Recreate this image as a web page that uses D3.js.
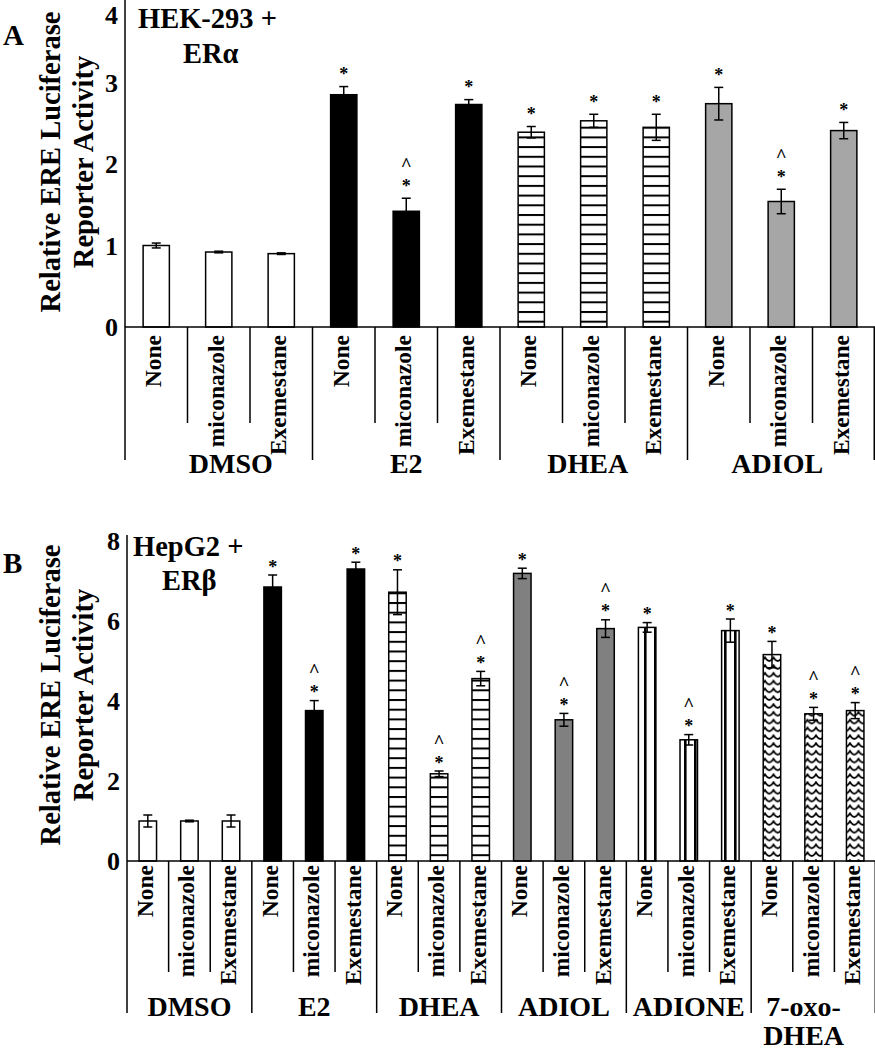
<!DOCTYPE html>
<html><head><meta charset="utf-8">
<script src="https://cdn.jsdelivr.net/npm/d3@7"></script>
<style>
html,body{margin:0;padding:0;background:#fff;}
svg text{font-family:"Liberation Serif","Times New Roman",serif;font-weight:bold;fill:#000;}
</style></head><body>
<svg id="chart" width="875" height="1050"></svg>
<script>
// ---------- data ----------
const treatments = ["None", "miconazole", "Exemestane"];

const groupsA = ["DMSO", "E2", "DHEA", "ADIOL"];
const valuesA = [1.00, 0.92, 0.90, 2.85, 1.42, 2.73, 2.39, 2.53, 2.45, 2.74, 1.54, 2.41];
const errorsA = [0.03, 0.01, 0.01, 0.10, 0.16, 0.06, 0.07, 0.08, 0.16, 0.20, 0.15, 0.10];
const starsA  = [0, 0, 0, 1, 1, 1, 1, 1, 1, 1, 1, 1];
const caretsA = [0, 0, 0, 0, 1, 0, 0, 0, 0, 0, 1, 0];
const ticksA  = [0, 1, 2, 3, 4];

const groupsB = ["DMSO", "E2", "DHEA", "ADIOL", "ADIONE", "7-oxo-DHEA"];
const valuesB = [1.00, 1.00, 1.00, 6.85, 3.76, 7.30, 6.72, 2.18, 4.56, 7.19, 3.53, 5.81, 5.84, 3.03, 5.76, 5.16, 3.68, 3.76];
const errorsB = [0.15, 0.02, 0.15, 0.30, 0.25, 0.17, 0.56, 0.07, 0.18, 0.13, 0.16, 0.22, 0.12, 0.13, 0.29, 0.33, 0.16, 0.20];
const starsB  = [0, 0, 0, 1, 1, 1, 1, 1, 1, 1, 1, 1, 1, 1, 1, 1, 1, 1];
const caretsB = [0, 0, 0, 0, 1, 0, 0, 1, 1, 0, 1, 1, 0, 1, 0, 0, 1, 1];
const ticksB  = [0, 2, 4, 6, 8];

const yTitle = ["Relative ERE Luciferase", "Reporter Activity"];
const titleA = ["HEK-293 +", "ER\u03B1"];
const titleB = ["HepG2 +", "ER\u03B2"];

// ---------- styles ----------
const fillA = {"DMSO": "#ffffff", "E2": "#000000", "DHEA": "url(#hstripe)", "ADIOL": "#a6a6a6"};
const fillB = {"DMSO": "#ffffff", "E2": "#000000", "DHEA": "url(#hstripe)", "ADIOL": "#808080",
               "ADIONE": "url(#vstripe)", "7-oxo-DHEA": "url(#zigzag)"};

const svg = d3.select("#chart");
const defs = svg.append("defs");

const hs = defs.append("pattern").attr("id", "hstripe").attr("patternUnits", "userSpaceOnUse")
  .attr("width", 10).attr("height", 9.7).attr("y", 0.6);
hs.append("rect").attr("width", 10).attr("height", 9.7).attr("fill", "#fff");
hs.append("rect").attr("width", 10).attr("height", 2).attr("fill", "#000");

const vs = defs.append("pattern").attr("id", "vstripe").attr("patternUnits", "userSpaceOnUse")
  .attr("width", 10).attr("height", 10);
vs.append("rect").attr("width", 10).attr("height", 10).attr("fill", "#fff");
vs.append("rect").attr("x", 4).attr("width", 2.6).attr("height", 10).attr("fill", "#000");

const zz = defs.append("pattern").attr("id", "zigzag").attr("patternUnits", "userSpaceOnUse")
  .attr("width", 8.5).attr("height", 7.8);
zz.append("rect").attr("width", 8.5).attr("height", 7.8).attr("fill", "#fff");
zz.append("path").attr("d", "M-0.5,1.4 Q2,5.8 4.25,5.8 Q6.5,5.8 9,1.4").attr("fill", "none")
  .attr("stroke", "#000").attr("stroke-width", 1.9);

function drawPanel(cfg) {
  const data = cfg.groups.flatMap((g, gi) => treatments.map((t, ti) => {
    const i = gi * 3 + ti;
    return {key: g + "|" + t, group: g, treat: t, value: cfg.values[i], err: cfg.errors[i],
            star: cfg.stars[i], caret: cfg.carets[i], idx: i};
  }));
  const x = d3.scaleBand().domain(data.map(d => d.key)).range([cfg.x0, cfg.x1])
    .paddingInner(0.58).paddingOuter(0.29);
  const y = d3.scaleLinear().domain([0, d3.max(cfg.ticks)]).range([cfg.yBase, cfg.yTop]);
  const step = x.step(), bw = x.bandwidth(), gap = (step - bw) / 2;
  const g = svg.append("g");

  // bars
  g.selectAll("rect.bar").data(data).join("rect").attr("class", "bar")
    .attr("x", d => x(d.key)).attr("y", d => y(d.value))
    .attr("width", bw).attr("height", d => cfg.yBase - y(d.value))
    .attr("fill", d => cfg.fill[d.group]).attr("stroke", "#000").attr("stroke-width", 1.5);

  // error bars
  const eb = g.selectAll("g.err").data(data).join("g").attr("class", "err")
    .attr("stroke", "#000").attr("stroke-width", 1.5);
  eb.append("line").attr("x1", d => x(d.key) + bw / 2).attr("x2", d => x(d.key) + bw / 2)
    .attr("y1", d => y(d.value - d.err)).attr("y2", d => y(d.value + d.err));
  eb.append("line").attr("x1", d => x(d.key) + bw / 2 - 4.5).attr("x2", d => x(d.key) + bw / 2 + 4.5)
    .attr("y1", d => y(d.value + d.err)).attr("y2", d => y(d.value + d.err));
  eb.append("line").attr("x1", d => x(d.key) + bw / 2 - 4.5).attr("x2", d => x(d.key) + bw / 2 + 4.5)
    .attr("y1", d => y(d.value - d.err)).attr("y2", d => y(d.value - d.err));

  // significance marks
  const markSize = 18;
  g.selectAll("text.star").data(data.filter(d => d.star)).join("text").attr("class", "star")
    .attr("x", d => x(d.key) + bw / 2).attr("y", d => y(d.value + d.err) - cfg.starGap + 8.5)
    .attr("text-anchor", "middle").attr("font-size", markSize).text("*");
  g.selectAll("text.caret").data(data.filter(d => d.caret)).join("text").attr("class", "caret")
    .attr("x", d => x(d.key) + bw / 2).attr("y", d => y(d.value + d.err) - cfg.starGap + 8.5 - cfg.caretGap)
    .attr("text-anchor", "middle").attr("font-size", markSize + 1).text("^");

  // y axis
  const ax = g.append("g").attr("transform", `translate(${cfg.x0},0)`)
    .call(d3.axisLeft(y).tickValues(cfg.ticks).tickSize(0).tickPadding(7).tickFormat(d3.format("d")));
  ax.select(".domain").remove();
  ax.selectAll("text").attr("font-size", 26).attr("fill", "#000")
    .style("font-family", '"Liberation Serif","Times New Roman",serif').style("font-weight", "bold")
    .attr("dy", d => y(d) < 12 ? "22px" : "0.34em");

  g.append("line").attr("x1", cfg.x0).attr("x2", cfg.x0).attr("y1", cfg.axisTop).attr("y2", cfg.longEnd)
    .attr("stroke", "#000").attr("stroke-width", 1.5);
  g.append("line").attr("x1", cfg.x0).attr("x2", cfg.x1).attr("y1", cfg.yBase).attr("y2", cfg.yBase)
    .attr("stroke", "#000").attr("stroke-width", 1.5);

  // dividers
  const bounds = data.map(d => ({pos: x(d.key) - gap, long: d.idx % 3 === 0 }))
    .filter(b => b.pos > cfg.x0 + 1);
  bounds.push({pos: cfg.x1 - 0.75, long: true});
  g.selectAll("line.div").data(bounds).join("line").attr("class", "div")
    .attr("x1", d => d.pos).attr("x2", d => d.pos).attr("y1", cfg.yBase)
    .attr("y2", d => d.long ? cfg.longEnd : cfg.shortEnd)
    .attr("stroke", "#000").attr("stroke-width", 1.5);

  // treatment labels
  g.selectAll("text.tr").data(data).join("text").attr("class", "tr")
    .attr("transform", d => `translate(${x(d.key) + bw / 2 + 5},${cfg.yBase + cfg.labelOff}) rotate(-90)`)
    .attr("text-anchor", "end").attr("font-size", 23.5).text(d => d.treat);

  // group labels
  cfg.groups.forEach((name, gi) => {
    const first = x(name + "|" + treatments[0]) - gap;
    const cx = first + step * 1.5 + (cfg.groupShift[gi] || 0);
    const lines = name.split(/(?<=-oxo-)/);
    lines.forEach((ln, li) => {
      g.append("text").attr("x", cx).attr("y", cfg.groupBase + li * 29)
        .attr("text-anchor", "middle").attr("font-size", 28).text(ln);
    });
  });

  // y title
  yTitle.forEach((t, i) => {
    g.append("text").attr("transform", `translate(${i === 0 ? 60 : 93},${cfg.titleMid}) rotate(-90)`)
      .attr("text-anchor", "middle").attr("font-size", 28.5).text(t);
  });

  // panel letter and inset title
  g.append("text").attr("x", 3).attr("y", cfg.letterY).attr("font-size", 29).text(cfg.letter);
  g.append("text").attr("x", cfg.t1x).attr("y", cfg.t1y).attr("font-size", 28.5).text(cfg.title[0]);
  g.append("text").attr("x", cfg.t2x).attr("y", cfg.t2y).attr("font-size", 28.5).text(cfg.title[1]);
}

drawPanel({
  groups: groupsA, values: valuesA, errors: errorsA, stars: starsA, carets: caretsA, ticks: ticksA,
  fill: fillA, x0: 125, x1: 875, yBase: 327, yTop: 1, axisTop: 0,
  shortEnd: 423, longEnd: 460, labelOff: 8, groupBase: 473, titleMid: 162,
  groupShift: [12, 0, -6, -4],
  starGap: 15, caretGap: 21, letter: "A", letterY: 45,
  title: titleA, t1x: 138, t1y: 28, t2x: 183, t2y: 63
});

drawPanel({
  groups: groupsB, values: valuesB, errors: errorsB, stars: starsB, carets: caretsB, ticks: ticksB,
  fill: fillB, x0: 127, x1: 876, yBase: 861, yTop: 541, axisTop: 535,
  shortEnd: 972, longEnd: 1013, labelOff: 4, groupBase: 1016, titleMid: 695,
  groupShift: [0, 0, 0, 0, 0, -10],
  starGap: 11, caretGap: 21, letter: "B", letterY: 573,
  title: titleB, t1x: 133, t1y: 556, t2x: 162, t2y: 590
});
</script>
</body></html>
